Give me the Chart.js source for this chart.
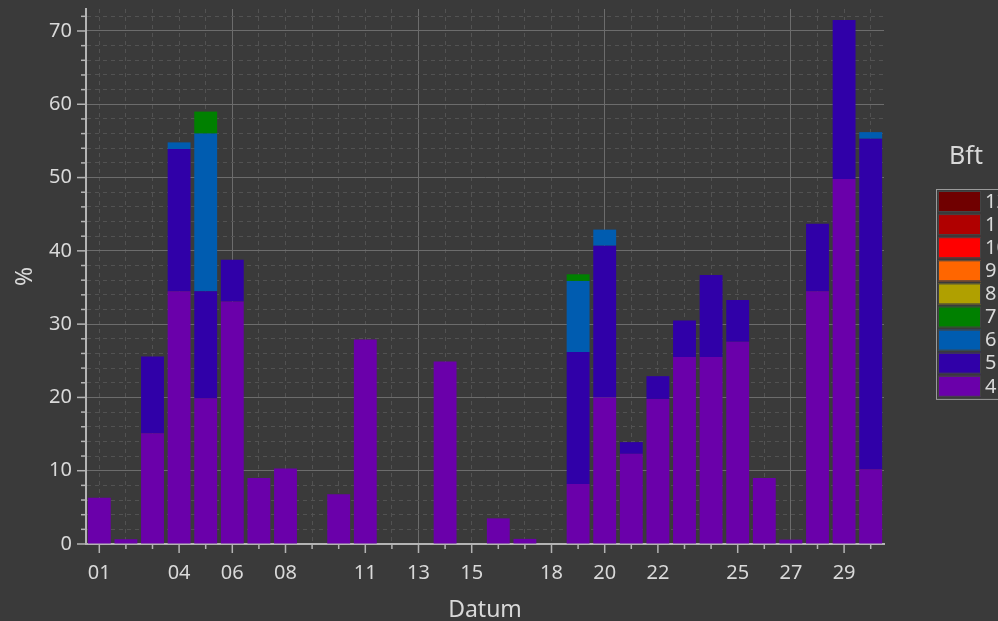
<!DOCTYPE html>
<html>
<head>
<meta charset="utf-8">
<script src="https://cdn.jsdelivr.net/npm/chart.js@4.4.1/dist/chart.umd.min.js"></script>
<style>
    html, body { margin: 0; padding: 0; background: #3a3a3a; overflow: hidden; }
    #wrap { width: 998px; height: 621px; position: relative; }
</style>
</head>
<body>
<div id="wrap"><canvas id="windChart"></canvas></div>
<script>
// Day labels of the month
const days = ["01", "02", "03", "04", "05", "06", "07", "08", "09", "10",
    "11", "12", "13", "14", "15", "16", "17", "18", "19", "20",
    "21", "22", "23", "24", "25", "26", "27", "28", "29", "30"];
const shownDays = ["01", "04", "06", "08", "11", "13", "15", "18", "20", "22", "25", "27", "29"];
const weekDays = ["06", "13", "20", "27"];

// Beaufort classes (bottom of the stack first)
const bftLabels = ["4", "5", "6", "7", "8", "9", "10", "11", "12"];
const bftColors = ["#6a00aa", "#3000a8", "#005cb0", "#008000", "#b0a000", "#ff6600", "#ff0000", "#b00000", "#700000"];

// Percent per day and class
const bft4 = [6.3, 0.65, 15.1, 34.5, 19.9, 33.1, 9.0, 10.3, 0, 6.8, 27.9, 0, 0, 24.9, 0, 3.5, 0.7, 0, 8.2, 20.0, 12.3, 19.8, 25.5, 25.5, 27.6, 9.0, 0.6, 34.5, 49.8, 10.2];
const bft5 = [0, 0, 10.5, 19.4, 14.6, 5.7, 0, 0, 0, 0, 0, 0, 0, 0, 0, 0, 0, 0, 18.0, 20.7, 1.6, 3.1, 5.0, 11.2, 5.7, 0, 0, 9.2, 21.7, 45.1];
const bft6 = [0, 0, 0, 0.9, 21.5, 0, 0, 0, 0, 0, 0, 0, 0, 0, 0, 0, 0, 0, 9.7, 2.2, 0, 0, 0, 0, 0, 0, 0, 0, 0, 0.9];
const bft7 = [0, 0, 0, 0, 3.0, 0, 0, 0, 0, 0, 0, 0, 0, 0, 0, 0, 0, 0, 0.9, 0, 0, 0, 0, 0, 0, 0, 0, 0, 0, 0];
const bft8 = new Array(30).fill(0);
const bft9 = new Array(30).fill(0);
const bft10 = new Array(30).fill(0);
const bft11 = new Array(30).fill(0);
const bft12 = new Array(30).fill(0);
const bftSeries = [bft4, bft5, bft6, bft7, bft8, bft9, bft10, bft11, bft12];

const textColor = "#d9d9d9";
const axisColor = "#b4b4b4";
const majorGrid = "#6c6c6c";
const minorGrid = "#525252";
const fontFamily = "'Noto Sans', 'Liberation Sans', sans-serif";

// Tick marks: long for labelled ticks, short for the rest
const tickMarks = {
    id: "tickMarks",
    afterDraw(chart) {
        const { ctx, chartArea, scales } = chart;
        ctx.save();
        ctx.strokeStyle = axisColor;
        ctx.lineWidth = 1.5;
        scales.x.ticks.forEach((t, i) => {
            const px = scales.x.getPixelForTick(i);
            const len = shownDays.includes(days[i]) ? 9 : 5;
            ctx.beginPath();
            ctx.moveTo(px, chartArea.bottom);
            ctx.lineTo(px, chartArea.bottom + len);
            ctx.stroke();
        });
        scales.y.ticks.forEach((t) => {
            const py = scales.y.getPixelForValue(t.value);
            const len = t.value % 10 === 0 ? 9 : 5;
            ctx.beginPath();
            ctx.moveTo(chartArea.left - len, py);
            ctx.lineTo(chartArea.left, py);
            ctx.stroke();
        });
        ctx.restore();
    },
};

// Legend box on the right, highest class on top
const bftLegend = {
    id: "bftLegend",
    afterDraw(chart) {
        const ctx = chart.ctx;
        const x0 = 936, y0 = 189, pitch = 23.1;
        ctx.save();
        ctx.fillStyle = textColor;
        ctx.font = "25px " + fontFamily;
        ctx.textAlign = "center";
        ctx.textBaseline = "middle";
        ctx.fillText("Bft", 966, 157);

        ctx.strokeStyle = "#9a9a9a";
        ctx.lineWidth = 1;
        ctx.strokeRect(x0 + 0.5, y0 + 0.5, 80, 9 * pitch + 2);

        ctx.font = "20px " + fontFamily;
        ctx.textAlign = "left";
        for (let k = 0; k < bftLabels.length; k++) {
            const idx = bftLabels.length - 1 - k;
            const y = y0 + 2 + k * pitch;
            ctx.fillStyle = bftColors[idx];
            ctx.fillRect(x0 + 2, y, 43, 21);
            ctx.strokeStyle = "#444";
            ctx.strokeRect(x0 + 2.5, y + 0.5, 42, 20);
            ctx.fillStyle = textColor;
            ctx.fillText(bftLabels[idx], x0 + 49, y + 11);
        }
        ctx.restore();
    },
};

const chartCtx = document.getElementById("windChart").getContext("2d");

const windChart = new Chart(chartCtx, {
    type: "bar",
    data: {
        labels: days,
        datasets: bftSeries.map((values, i) => ({
            label: bftLabels[i],
            data: values,
            backgroundColor: bftColors[i],
            borderWidth: 0,
            barPercentage: 0.86,
            categoryPercentage: 1.0,
        })),
    },
    options: {
        responsive: true,
        maintainAspectRatio: false,
        animation: false,
        layout: {
            padding: { top: 9, right: 114, left: 0, bottom: 0 },
        },
        plugins: {
            legend: { display: false },
            tooltip: { enabled: false },
        },
        scales: {
            x: {
                stacked: true,
                offset: true,
                afterFit: (scale) => {
                    scale.height = 77;
                    scale.paddingLeft = 0;
                    scale.paddingRight = 0;
                },
                grid: {
                    offset: false,
                    drawTicks: false,
                    lineWidth: 1,
                    color: (c) => (weekDays.includes(days[c.index]) ? majorGrid : minorGrid),
                },
                border: {
                    display: true,
                    color: axisColor,
                    width: 2,
                    dash: (c) => (c.tick && weekDays.includes(days[c.index]) ? [] : [4, 4]),
                },
                ticks: {
                    autoSkip: false,
                    maxRotation: 0,
                    padding: 17,
                    color: textColor,
                    font: { size: 20, family: fontFamily },
                    callback: (v, i) => (shownDays.includes(days[i]) ? days[i] : ""),
                },
                title: {
                    display: true,
                    text: "Datum",
                    color: textColor,
                    font: { size: 23, family: fontFamily },
                    padding: { top: 0, bottom: -3 },
                },
            },
            y: {
                stacked: true,
                min: 0,
                max: 73,
                afterFit: (scale) => {
                    scale.width = 86;
                    scale.paddingTop = 0;
                    scale.paddingBottom = 0;
                },
                grid: {
                    drawTicks: false,
                    lineWidth: 1,
                    color: (c) => (c.tick && c.tick.value % 10 === 0 ? majorGrid : minorGrid),
                },
                border: {
                    display: true,
                    color: axisColor,
                    width: 2,
                    dash: (c) => (c.tick && c.tick.value % 10 === 0 ? [] : [4, 4]),
                },
                ticks: {
                    stepSize: 2,
                    includeBounds: false,
                    autoSkip: false,
                    padding: 14,
                    color: textColor,
                    font: { size: 20, family: fontFamily },
                    callback: (v) => (v % 10 === 0 ? v : ""),
                },
                title: {
                    display: true,
                    text: "%",
                    color: textColor,
                    font: { size: 23, family: fontFamily },
                    padding: { top: 12, bottom: 0 },
                },
            },
        },
    },
    plugins: [tickMarks, bftLegend],
});
</script>
</body>
</html>
